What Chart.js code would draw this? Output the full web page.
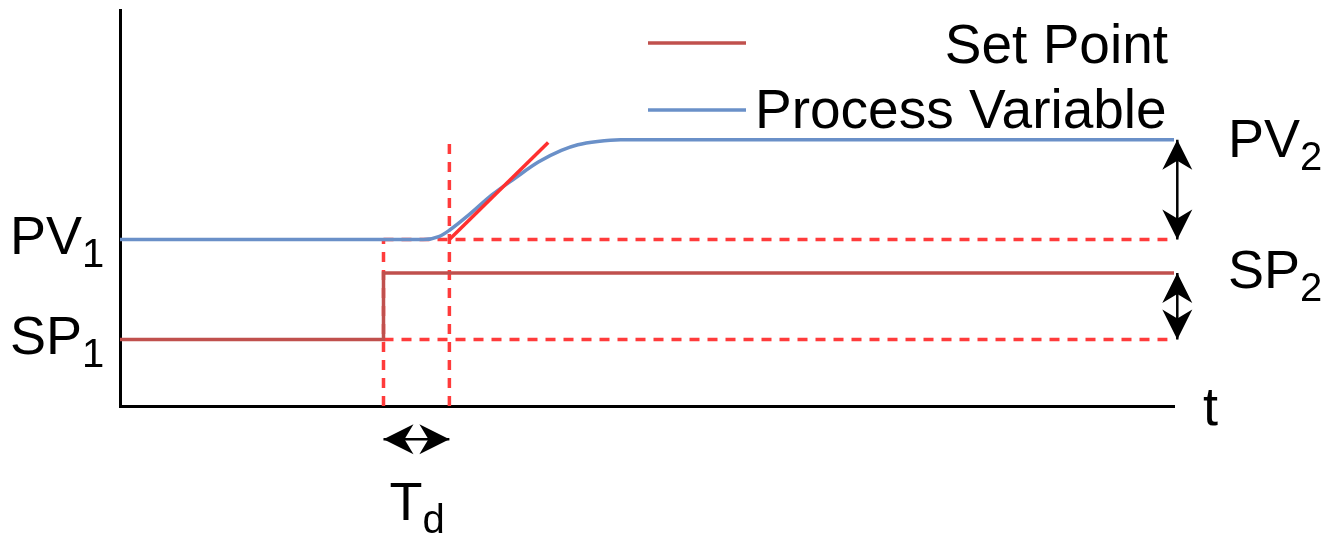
<!DOCTYPE html>
<html>
<head>
<meta charset="utf-8">
<script src="https://cdn.jsdelivr.net/npm/chart.js@4"></script>
<style>
  body { margin: 0; background: #fff; }
  #wrap { width: 1339px; height: 536px; position: relative; }
</style>
</head>
<body>
<div id="wrap"><canvas id="myChart"></canvas></div>
<script>
// process variable response (time, value)
const pvTimes = [0, 8, 9.2, 9.7, 10, 10.6, 11.3, 12, 12.7, 13.4, 13.9, 14.5, 15.2, 32];
const pvValues = [5, 5, 5, 5.1, 5.28, 5.75, 6.35, 6.85, 7.33, 7.68, 7.85, 7.95, 8, 8];

// set point step
const spTimes = [0, 8, 32];
const spValues = [2, 4, 4];

// tangent at the start of the rise
const tangentTimes = [10, 13];
const tangentValues = [5, 7.92];

// levels and times used by guides / arrows
const stepTime = 8;
const deadTimeEnd = 10;
const guideEnd = 31.8;
const arrowTime = 32.1;
const pv1 = 5, pv2 = 8, sp1 = 2, sp2 = 4;
const tdLevel = -1;

const xMax = 32;
const yMax = 11.9;

const toPoints = (xs, ys) => xs.map((x, i) => ({ x: x, y: ys[i] }));

const dashRed = "#ff3b3b";

// dashed helper lines
function guide(xs, ys) {
  return {
    data: toPoints(xs, ys),
    borderColor: dashRed,
    borderWidth: 3.5,
    borderDash: [10, 8],
    pointRadius: 0,
    clip: false,
    order: 3,
  };
}

// black double arrows
function arrow(xs, ys) {
  return {
    data: toPoints(xs, ys),
    borderColor: "#000",
    borderWidth: 2.5,
    pointRadius: 0,
    clip: false,
    arrow: true,
    order: 0,
  };
}

const datasets = [
  guide([stepTime, stepTime], [0, pv1]),
  guide([deadTimeEnd, deadTimeEnd], [0, 7.9]),
  guide([stepTime, guideEnd], [pv1, pv1]),
  guide([stepTime, guideEnd], [sp1, sp1]),
  {
    label: "Set Point",
    data: toPoints(spTimes, spValues),
    borderColor: "#c0504d",
    borderWidth: 3.5,
    stepped: "before",
    pointRadius: 0,
    clip: false,
    order: 2,
  },
  {
    label: "Process Variable",
    data: toPoints(pvTimes, pvValues),
    borderColor: "#6a90c8",
    borderWidth: 3.5,
    cubicInterpolationMode: "monotone",
    pointRadius: 0,
    clip: false,
    order: 2,
  },
  {
    data: toPoints(tangentTimes, tangentValues),
    borderColor: "#ff3030",
    borderWidth: 3.5,
    pointRadius: 0,
    clip: false,
    order: 1,
  },
  arrow([arrowTime, arrowTime], [pv2, pv1]),
  arrow([arrowTime, arrowTime], [sp2, sp1]),
  arrow([stepTime, deadTimeEnd], [tdLevel, tdLevel]),
];

// stealth style arrow head with the tip at (x, y)
function head(ctx, x, y, angle) {
  ctx.save();
  ctx.translate(x, y);
  ctx.rotate(angle);
  ctx.beginPath();
  ctx.moveTo(0, 0);
  ctx.lineTo(-30, -15);
  ctx.lineTo(-21, 0);
  ctx.lineTo(-30, 15);
  ctx.closePath();
  ctx.fillStyle = "#000";
  ctx.fill();
  ctx.restore();
}

function label(ctx, main, sub, x, y) {
  ctx.font = "54px 'Liberation Sans', Arial, sans-serif";
  ctx.fillText(main, x, y);
  const w = ctx.measureText(main).width;
  ctx.font = "40px 'Liberation Sans', Arial, sans-serif";
  ctx.fillText(sub, x + w, y + 13);
}

const decorations = {
  id: "decorations",
  afterDatasetsDraw(chart) {
    const ctx = chart.ctx;
    const xs = chart.scales.x;
    const ys = chart.scales.y;

    chart.data.datasets.forEach((ds, i) => {
      if (!ds.arrow) return;
      const pts = chart.getDatasetMeta(i).data;
      const a = pts[0], b = pts[pts.length - 1];
      const ang = Math.atan2(b.y - a.y, b.x - a.x);
      head(ctx, b.x, b.y, ang);
      head(ctx, a.x, a.y, ang + Math.PI);
    });

    ctx.save();
    ctx.fillStyle = "#000";
    ctx.textBaseline = "alphabetic";
    ctx.textAlign = "left";

    label(ctx, "PV", "1", 10, ys.getPixelForValue(pv1) + 14);
    label(ctx, "SP", "1", 10, ys.getPixelForValue(sp1) + 15);
    label(ctx, "PV", "2", 1228, ys.getPixelForValue(pv2) + 17);
    label(ctx, "SP", "2", 1228, ys.getPixelForValue(sp2) + 15);
    label(ctx, "T", "d", xs.getPixelForValue(stepTime) + 6, 520);

    ctx.font = "54px 'Liberation Sans', Arial, sans-serif";
    ctx.fillText("t", 1203, 425);

    // legend
    const legend = chart.data.datasets.filter((d) => d.label);
    const rows = [43, 110];
    legend.forEach((d, k) => {
      ctx.strokeStyle = d.borderColor;
      ctx.lineWidth = 3.5;
      ctx.beginPath();
      ctx.moveTo(648, rows[k]);
      ctx.lineTo(746, rows[k]);
      ctx.stroke();
    });
    ctx.font = "55px 'Liberation Sans', Arial, sans-serif";
    ctx.textAlign = "right";
    ctx.fillText(legend[0].label, 1168, 63);
    ctx.textAlign = "left";
    ctx.fillText(legend[1].label, 755, 128);
    ctx.restore();
  },
};

new Chart(document.getElementById("myChart"), {
  type: "line",
  data: { datasets: datasets },
  options: {
    responsive: true,
    maintainAspectRatio: false,
    animation: false,
    layout: { padding: { left: 120, top: 10, right: 165, bottom: 130 } },
    plugins: { legend: { display: false }, tooltip: { enabled: false } },
    scales: {
      x: {
        type: "linear",
        min: 0,
        max: xMax,
        ticks: { display: false },
        grid: { display: false, drawTicks: false },
        border: { display: true, color: "#000", width: 3 },
      },
      y: {
        type: "linear",
        min: 0,
        max: yMax,
        ticks: { display: false },
        grid: { display: false, drawTicks: false },
        border: { display: true, color: "#000", width: 3 },
      },
    },
  },
  plugins: [decorations],
});
</script>
</body>
</html>
